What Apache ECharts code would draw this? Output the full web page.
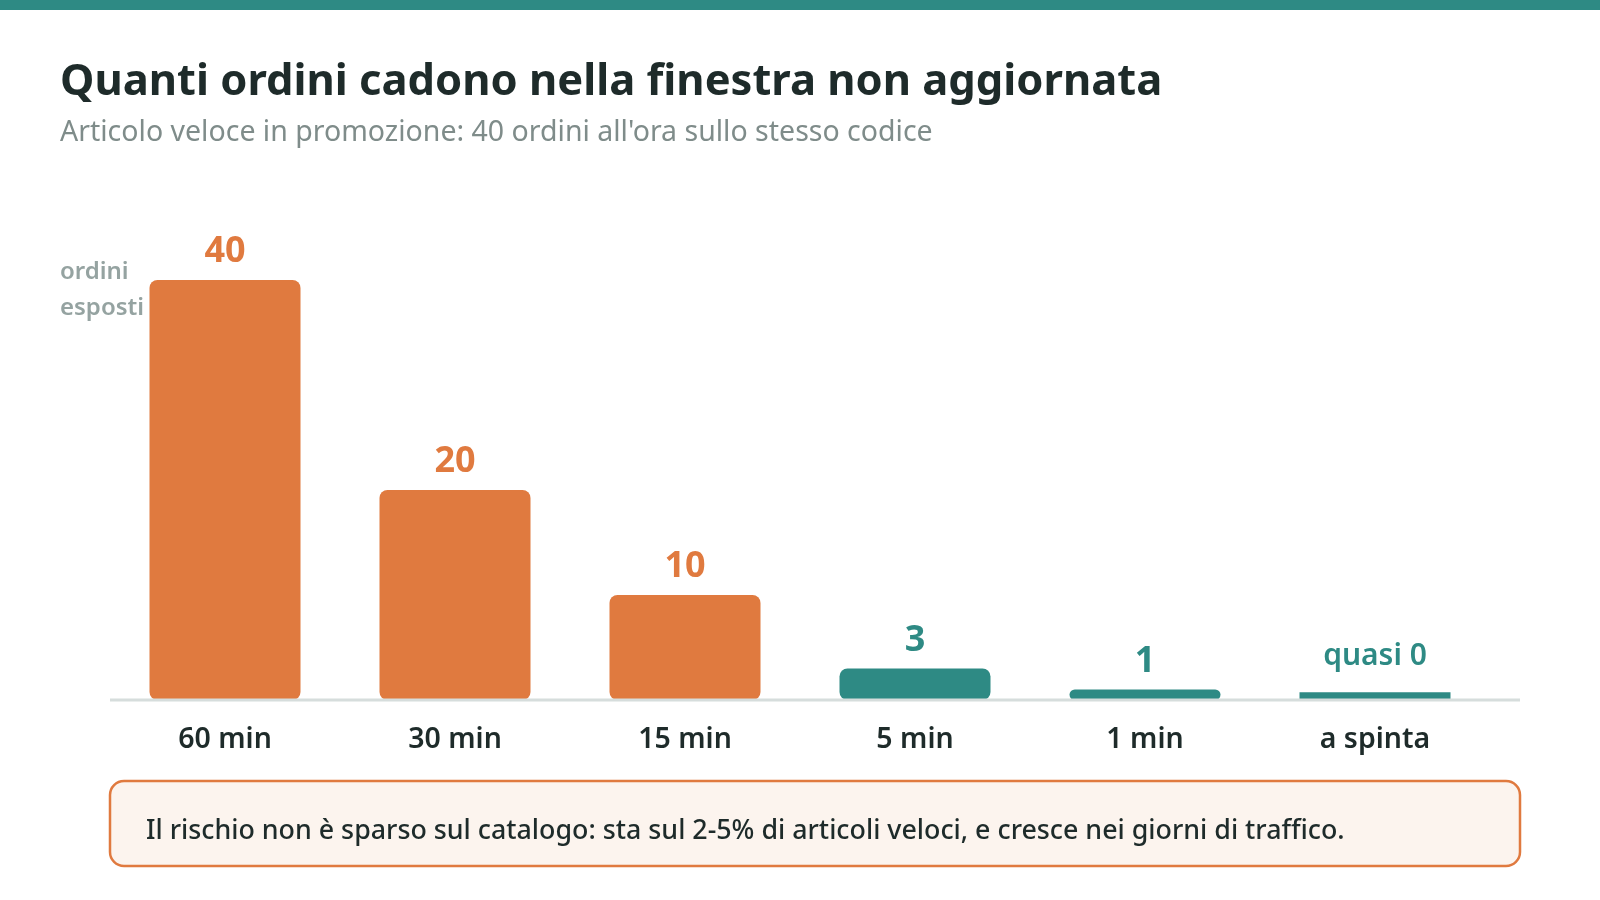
<!DOCTYPE html>
<html>
<head>
<meta charset="utf-8">
<script src="https://cdn.jsdelivr.net/npm/echarts@6/dist/echarts.min.js"></script>
<style>
  html, body { margin: 0; padding: 0; background: #fff; }
  #chart { width: 1600px; height: 900px; }
</style>
</head>
<body>
<div id="chart"></div>
<script>
// dati
var categories = ['60 min', '30 min', '15 min', '5 min', '1 min', 'a spinta'];
var ordiniEsposti = [40, 20, 10, 3, 1, 0.75];
var etichette = ['40', '20', '10', '3', '1', 'quasi 0'];
var rischio = [true, true, true, false, false, false]; // arancio = finestra larga

var ORANGE = '#e07a3f';
var TEAL = '#2e8a84';
var FONT = '"Noto Sans", "Open Sans", sans-serif';

var chart = echarts.init(document.getElementById('chart'));

var barData = ordiniEsposti.map(function (v, i) {
  var col = rischio[i] ? ORANGE : TEAL;
  var last = i === ordiniEsposti.length - 1;
  return {
    value: v,
    itemStyle: { color: col, borderRadius: last ? 0 : 8 },
    label: {
      color: col,
      fontSize: last ? 30 : 36,
      fontWeight: last ? 600 : 'bold',
      distance: last ? 21 : 10
    }
  };
});

var option = {
  backgroundColor: '#fff',
  animation: false,
  textStyle: { fontFamily: FONT },
  title: [
    {
      text: 'Quanti ordini cadono nella finestra non aggiornata',
      left: 60, top: 61, padding: 0,
      textStyle: { fontFamily: FONT, fontSize: 43.5, fontWeight: 'bold', color: '#1e2b2a' }
    },
    {
      text: "Articolo veloce in promozione: 40 ordini all'ora sullo stesso codice",
      left: 60, top: 118, padding: 0,
      textStyle: { fontFamily: FONT, fontSize: 28.5, fontWeight: 'normal', color: '#7f8c8a' }
    },
    {
      text: 'ordini\nesposti',
      left: 60, top: 254, padding: 0,
      textStyle: { fontFamily: FONT, fontSize: 24, fontWeight: 600, color: '#95a3a1', lineHeight: 36 }
    }
  ],
  grid: { left: 110, right: 110, top: 280, bottom: 200 },
  xAxis: {
    type: 'category',
    data: categories,
    axisLine: { show: false },
    axisTick: { show: false },
    axisLabel: { color: '#1e2b2a', fontSize: 28.5, fontWeight: 600, margin: 25, fontFamily: FONT }
  },
  yAxis: {
    type: 'value',
    min: 0,
    max: 40,
    show: false,
    splitLine: { show: false }
  },
  series: [{
    type: 'bar',
    barWidth: 151,
    data: barData,
    label: {
      show: true,
      position: 'top',
      fontFamily: FONT,
      formatter: function (p) { return etichette[p.dataIndex]; }
    }
  }]
};

chart.setOption(option);

// linea di base, riquadro nota e banda superiore
var y0 = chart.convertToPixel({ gridIndex: 0 }, [0, 0])[1];
chart.setOption({
  graphic: [
    { type: 'rect', left: 0, top: 0, shape: { width: 1600, height: 10 }, style: { fill: TEAL } },
    { type: 'rect', z: 10, shape: { x: 110, y: y0 - 1.5, width: 1410, height: 3 }, style: { fill: '#d6dddc' } },
    {
      type: 'rect',
      shape: { x: 110, y: 781, width: 1410, height: 85, r: 14 },
      style: { fill: '#fcf4ee', stroke: ORANGE, lineWidth: 2.5 }
    },
    {
      type: 'text',
      x: 146, y: 831,
      style: {
        text: 'Il rischio non è sparso sul catalogo: sta sul 2-5% di articoli veloci, e cresce nei giorni di traffico.',
        font: '500 26.8px ' + FONT,
        fill: '#1e2b2a',
        verticalAlign: 'middle'
      }
    }
  ]
});

window.addEventListener('resize', chart.resize);
</script>
</body>
</html>
